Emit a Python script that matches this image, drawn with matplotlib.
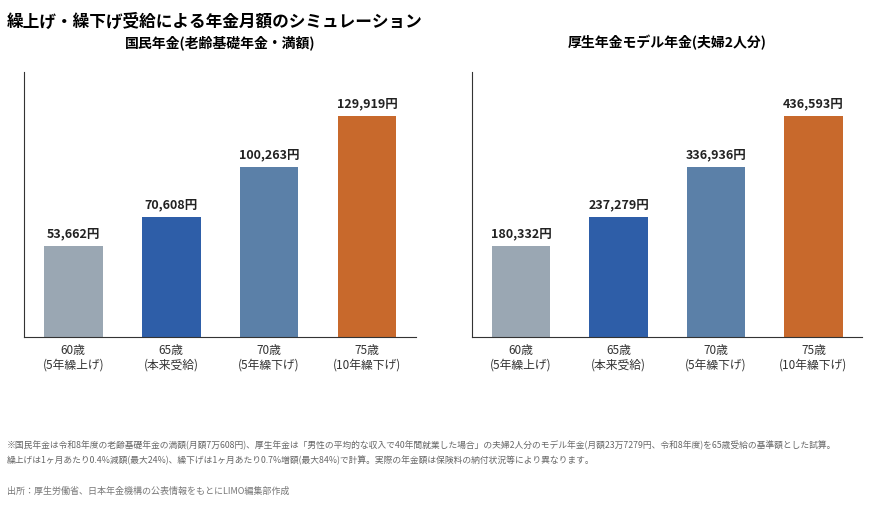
import matplotlib
matplotlib.use("Agg")
import matplotlib.pyplot as plt

plt.rcParams['font.family'] = ['Noto Sans CJK JP', 'DejaVu Sans']

categories = ["60歳\n(5年繰上げ)", "65歳\n(本来受給)", "70歳\n(5年繰下げ)", "75歳\n(10年繰下げ)"]
kokumin = [53662, 70608, 100263, 129919]
kosei = [180332, 237279, 336936, 436593]
colors = ["#9aa7b3", "#2e5ea8", "#5b80a8", "#c8692c"]

fig = plt.figure(figsize=(8.7, 5.05), dpi=100)
fig.text(0.008, 0.975, "繰上げ・繰下げ受給による年金月額のシミュレーション", fontsize=12,
         fontweight='bold', va='top', ha='left')

def draw(ax, values, title):
    x = range(len(values))
    ax.bar(x, values, width=0.6, color=colors)
    for i, v in enumerate(values):
        ax.text(i, v + max(values) * 0.025, f"{v:,}円", ha='center', va='bottom',
                fontsize=9, fontweight='bold', color='#222222')
    ax.set_xlim(-0.5, 3.5)
    ax.set_ylim(0, max(values) * 1.2)
    ax.set_yticks([])
    ax.set_xticks(list(x))
    ax.set_xticklabels(categories, fontsize=8.5, color='#333333')
    ax.tick_params(axis='x', length=0, pad=5)
    for s in ['top', 'right']:
        ax.spines[s].set_visible(False)
    ax.spines['left'].set_color('#333333')
    ax.spines['bottom'].set_color('#333333')
    ax.set_title(title, fontsize=10, fontweight='bold', pad=18)

ax1 = fig.add_axes([0.028, 0.333, 0.45, 0.524])
ax2 = fig.add_axes([0.543, 0.333, 0.448, 0.524])
draw(ax1, kokumin, "国民年金(老齢基礎年金・満額)")
draw(ax2, kosei, "厚生年金モデル年金(夫婦2人分)")

fig.text(0.008, 0.128, "※国民年金は令和8年度の老齢基礎年金の満額(月額7万608円)、厚生年金は「男性の平均的な収入で40年間就業した場合」の夫婦2人分のモデル年金(月額23万7279円、令和8年度)を65歳受給の基準額とした試算。\n繰上げは1ヶ月あたり0.4%減額(最大24%)、繰下げは1ヶ月あたり0.7%増額(最大84%)で計算。実際の年金額は保険料の納付状況等により異なります。",
         fontsize=6.3, color='#666666', va='top', linespacing=1.7)
fig.text(0.008, 0.028, "出所：厚生労働省、日本年金機構の公表情報をもとにLIMO編集部作成",
         fontsize=6.5, color='#777777', va='center')

fig.savefig("out.png", dpi=100)
